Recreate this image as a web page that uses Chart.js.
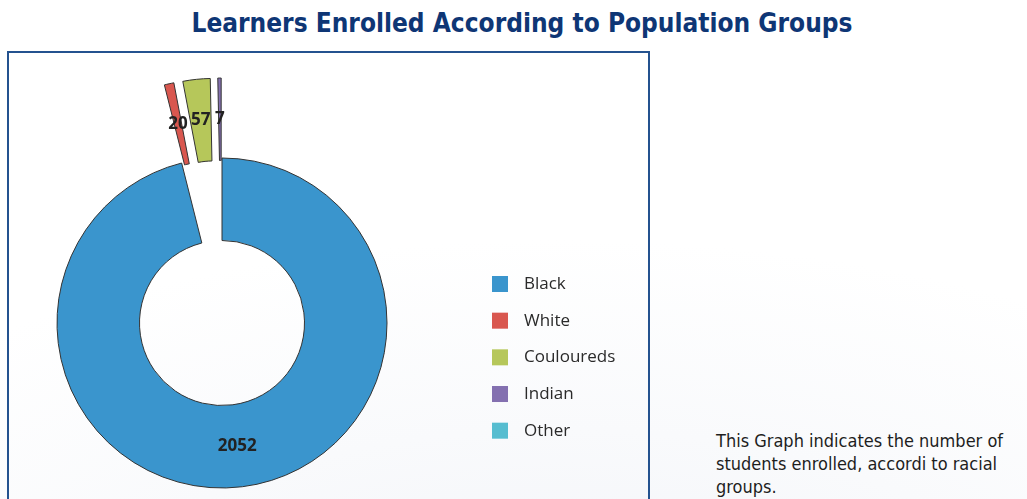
<!DOCTYPE html>
<html>
<head>
<meta charset="utf-8">
<script src="https://cdn.jsdelivr.net/npm/chart.js@4"></script>
<style>
  html, body { margin: 0; padding: 0; }
  body {
    width: 1027px; height: 499px; overflow: hidden; position: relative;
    background: radial-gradient(ellipse 900px 420px at 560px 660px, #f1f3f8 0%, #f9fafc 55%, #ffffff 100%);
  }
  #title {
    position: absolute; left: 22px; top: 8px; width: 1000px; text-align: center;
    font: bold 26px "DejaVu Sans Condensed", "DejaVu Sans", sans-serif;
    color: #0e3675;
  }
  #frame {
    position: absolute; left: 7px; top: 51px; width: 639px; height: 470px;
    border: 2px solid #24528f;
  }
  #pie { position: absolute; left: 0; top: 0; }
  #note {
    position: absolute; left: 716px; top: 429px; width: 310px;
    font: 18px "DejaVu Sans Condensed", "DejaVu Sans", sans-serif;
    line-height: 23px; color: #1e1e1e;
  }
</style>
</head>
<body>
<div id="title">Learners Enrolled According to Population Groups</div>
<div id="frame"></div>
<canvas id="pie" width="660" height="499"></canvas>
<div id="note">This Graph indicates the number of students enrolled, accordi to racial groups.</div>

<script>
const groups = ["Black", "White", "Couloureds", "Indian", "Other"];
const learners = [2052, 20, 57, 7, 0];
const groupColours = ['#3a95cd', '#d9574f', '#b6c75a', '#8470b0', '#56bdd0'];
// how far (px) each slice is pulled out of the ring
const pullOut = [0, 80, 80, 80, 0];

const ringX = 222, ringY = 323, ringRadius = 165;

// pin the ring centre and size instead of letting the layout pick them
const placeRing = {
  id: 'placeRing',
  afterLayout(chart) {
    chart.chartArea = {
      left: ringX - ringRadius, right: ringX + ringRadius,
      top: ringY - ringRadius, bottom: ringY + ringRadius,
      width: ringRadius * 2, height: ringRadius * 2
    };
  }
};

// the built-in arc offset also thins the slice, so shift the whole arc instead
const explode = {
  id: 'explode',
  afterUpdate(chart) {
    chart.getDatasetMeta(0).data.forEach((arc, i) => {
      const d = pullOut[i];
      if (!d) return;
      arc.draw = function(ctx) {
        const mid = (this.startAngle + this.endAngle) / 2;
        ctx.save();
        ctx.translate(Math.cos(mid) * d, Math.sin(mid) * d);
        Chart.ArcElement.prototype.draw.call(this, ctx);
        ctx.restore();
      };
    });
  }
};

// value printed in the middle of each arc
const arcValues = {
  id: 'arcValues',
  afterDatasetsDraw(chart) {
    const ctx = chart.ctx;
    const meta = chart.getDatasetMeta(0);
    ctx.save();
    ctx.font = 'bold 17px "Open Sans", sans-serif';
    ctx.fillStyle = '#222222';
    ctx.textAlign = 'center';
    ctx.textBaseline = 'middle';
    meta.data.forEach((arc, i) => {
      if (!learners[i]) return;
      const mid = (arc.startAngle + arc.endAngle) / 2;
      const r = (arc.innerRadius + arc.outerRadius) / 2 + pullOut[i];
      ctx.fillText(String(learners[i]), arc.x + Math.cos(mid) * r, arc.y + Math.sin(mid) * r);
    });
    ctx.restore();
  }
};

// legend column to the right of the ring
const sideLegend = {
  id: 'sideLegend',
  afterDraw(chart) {
    const ctx = chart.ctx;
    ctx.save();
    ctx.font = '17px "Open Sans", sans-serif';
    ctx.textBaseline = 'middle';
    groups.forEach((name, i) => {
      const y = 276 + i * 36.67;
      ctx.fillStyle = groupColours[i];
      ctx.fillRect(492, y, 16, 16);
      ctx.fillStyle = '#2a2a2a';
      ctx.fillText(name, 524, y + 8);
    });
    ctx.restore();
  }
};

const ctx = document.getElementById('pie').getContext('2d');
const enrolChart = new Chart(ctx, {
  type: 'doughnut',
  data: {
    labels: groups,
    datasets: [{
      data: learners,
      backgroundColor: groupColours,
      borderColor: '#333333',
      borderWidth: 1,
      radius: ringRadius,
      clip: false
    }]
  },
  options: {
    responsive: false,
    animation: false,
    devicePixelRatio: 1,
    cutout: '50%',
    events: [],
    plugins: {
      legend: { display: false },
      tooltip: { enabled: false },
      title: { display: false }
    }
  },
  plugins: [placeRing, explode, arcValues, sideLegend]
});
</script>
</body>
</html>
